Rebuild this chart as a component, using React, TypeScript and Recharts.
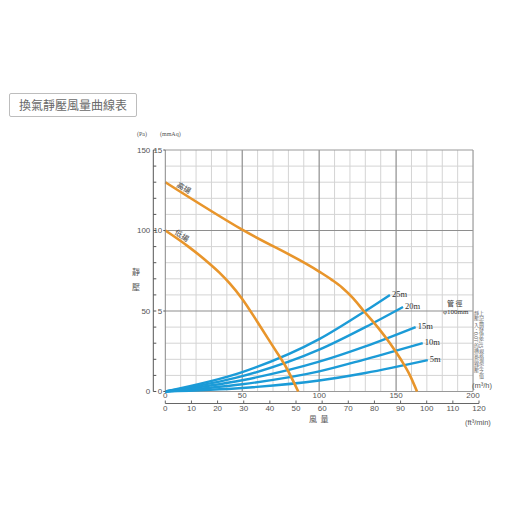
import {
  ComposedChart,
  LabelList,
  Line,
  ReferenceLine,
  XAxis,
  YAxis,
} from "recharts";

// fan curves, static pressure (mmAq) against airflow (m³/h)
const highFan = [
  { q: 0, h: 13 },
  { q: 50, h: 10.05 },
  { q: 100, h: 7.45 },
  { q: 108, h: 6.95 },
  { q: 115, h: 6.45 },
  { q: 122, h: 5.8 },
  { q: 129, h: 5.0 },
  { q: 138, h: 4.0 },
  { q: 146, h: 3.0 },
  { q: 153, h: 2.0 },
  { q: 159, h: 1.0 },
  { q: 163.6, h: 0 },
];

const lowFan = [
  { q: 0, h: 10 },
  { q: 15, h: 9.0 },
  { q: 28, h: 8.0 },
  { q: 35, h: 7.4 },
  { q: 42, h: 6.7 },
  { q: 50, h: 5.75 },
  { q: 60, h: 4.3 },
  { q: 70, h: 2.8 },
  { q: 78, h: 1.6 },
  { q: 86.4, h: 0 },
];

// duct resistance curves, duct φ100mm
const duct25 = [
  { q: 0, h: 0 },
  { q: 50, h: 1.2 },
  { q: 100, h: 3.25 },
  { q: 130, h: 5.0 },
  { q: 146, h: 6.0 },
];
const duct20 = [
  { q: 0, h: 0 },
  { q: 50, h: 0.95 },
  { q: 100, h: 2.6 },
  { q: 130, h: 4.0 },
  { q: 154.5, h: 5.25 },
];
const duct15 = [
  { q: 0, h: 0 },
  { q: 50, h: 0.7 },
  { q: 100, h: 1.85 },
  { q: 130, h: 2.8 },
  { q: 162.7, h: 4.0 },
];
const duct10 = [
  { q: 0, h: 0 },
  { q: 50, h: 0.45 },
  { q: 100, h: 1.25 },
  { q: 130, h: 2.0 },
  { q: 167.3, h: 3.0 },
];
const duct5 = [
  { q: 0, h: 0 },
  { q: 50, h: 0.22 },
  { q: 100, h: 0.68 },
  { q: 130, h: 1.15 },
  { q: 170.6, h: 1.95 },
];

const ductSeries = [
  { name: "25m", data: duct25 },
  { name: "20m", data: duct20 },
  { name: "15m", data: duct15 },
  { name: "10m", data: duct10 },
  { name: "5m", data: duct5 },
];

const m3Ticks = [0, 50, 100, 150, 200];
const ftTicks = [0, 10, 20, 30, 40, 50, 60, 70, 80, 90, 100, 110, 120];
const mmTicks = [0, 5, 10, 15];
const paTicks = [0, 10, 20, 30, 40, 50, 60, 70, 80, 90, 100, 110, 120, 130, 140, 150];
const paLabels = [0, 50, 100, 150];

const minorQ = [10, 20, 30, 40, 60, 70, 80, 90, 110, 120, 130, 140, 160, 170, 180, 190];
const majorQ = [50, 100, 150];
const minorH = [1, 2, 3, 4, 6, 7, 8, 9, 11, 12, 13, 14];
const majorH = [5, 10];

const M3_PER_CFM = 1.699;
const qMax = 120 * M3_PER_CFM;

// corners of the secondary scales, so those axes have a domain
const secondaryRange = [
  { cfm: 0, pa: 0 },
  { cfm: 120, pa: 150 },
];

const ORANGE = "#e8952b";
const BLUE = "#1b9bd7";
const SANS = "'Liberation Sans', Arial, sans-serif";
const SERIF = "'Liberation Serif', 'Times New Roman', serif";
const CJK = "'Noto Sans CJK TC', sans-serif";

const PaTick = (props: any) => {
  const { x, y, payload } = props;
  return (
    <g>
      <line x1={x + 3} x2={x + 6} y1={y} y2={y} stroke="#555" />
      {paLabels.includes(payload.value) && (
        <text
          x={x}
          y={y}
          textAnchor="end"
          dominantBaseline="central"
          fontSize={8}
          fill="#555"
          fontFamily={SANS}
        >
          {payload.value}
        </text>
      )}
    </g>
  );
};

const FtTick = (props: any) => {
  const { x, y, payload } = props;
  return (
    <g>
      <line x1={x} x2={x} y1={y} y2={y - 3} stroke="#666" />
      <text
        x={x}
        y={y + 5}
        textAnchor="middle"
        dominantBaseline="central"
        fontSize={8}
        fill="#555"
        fontFamily={SANS}
      >
        {payload.value}
      </text>
    </g>
  );
};

const endLabel = (text: string, last: number) => (props: any) =>
  props.index === last ? (
    <text
      x={Number(props.x) + 2}
      y={Number(props.y) - 1}
      dominantBaseline="central"
      fontSize={8.5}
      fill="#333"
      fontFamily={SERIF}
    >
      {text}
    </text>
  ) : null;

const startLabel = (text: string, dx: number, dy: number, angle: number) => (props: any) =>
  props.index === 0 ? (
    <text
      x={Number(props.x) + dx}
      y={Number(props.y) + dy}
      textAnchor="middle"
      dominantBaseline="central"
      fontSize={7.5}
      fill="#444"
      fontFamily={CJK}
      transform={`rotate(${angle} ${Number(props.x) + dx} ${Number(props.y) + dy})`}
    >
      {text}
    </text>
  ) : null;

const abs = (left: number, top: number, extra: any = {}) => ({
  position: "absolute" as const,
  left,
  top,
  color: "#555",
  whiteSpace: "nowrap" as const,
  ...extra,
});

export default function App() {
  return (
    <div style={{ position: "absolute", left: 0, top: 0, width: 514, height: 514, background: "#fff" }}>
      <div
        style={abs(9, 93, {
          width: 128,
          height: 24,
          boxSizing: "border-box",
          border: "1px solid #bdbdbd",
          borderRadius: 2,
          textAlign: "center",
          lineHeight: "22px",
          fontSize: 12,
          fontFamily: CJK,
          color: "#6a6a6a",
        })}
      >
        換氣靜壓風量曲線表
      </div>

      <ComposedChart
        width={514}
        height={514}
        margin={{ top: 150, right: 35, bottom: 84.5, left: 123.3 }}
        style={{ position: "absolute", left: 0, top: 0 }}
      >
        <XAxis
          xAxisId="a_m3"
          type="number"
          dataKey="q"
          domain={[0, qMax]}
          ticks={m3Ticks}
          interval={0}
          height={12}
          axisLine={false}
          tickLine={false}
          tickSize={0}
          tickMargin={1}
          tick={{ fontSize: 8, fill: "#555", fontFamily: SANS }}
        />
        <XAxis
          xAxisId="b_ft"
          type="number"
          dataKey="cfm"
          domain={[0, 120]}
          ticks={ftTicks}
          interval={0}
          height={26}
          axisLine={{ stroke: "#666" }}
          tickLine={false}
          tickSize={0}
          tickMargin={0}
          tick={FtTick}
        />
        <YAxis
          yAxisId="a_mm"
          type="number"
          domain={[0, 15]}
          ticks={mmTicks}
          interval={0}
          width={12}
          axisLine={{ stroke: "#888" }}
          tickLine={{ stroke: "#555" }}
          tickSize={2}
          tickMargin={1}
          tick={{ fontSize: 8, fill: "#555", fontFamily: SANS }}
        />
        <YAxis
          yAxisId="b_pa"
          type="number"
          domain={[0, 150]}
          ticks={paTicks}
          interval={0}
          width={30}
          axisLine={{ stroke: "#555" }}
          tickLine={false}
          tickSize={0}
          tickMargin={3}
          tick={PaTick}
        />

        {minorQ.map((v) => (
          <ReferenceLine key={`mq${v}`} xAxisId="a_m3" yAxisId="a_mm" x={v} stroke="#d4d4d4" />
        ))}
        {minorH.map((v) => (
          <ReferenceLine
            key={`mh${v}`}
            xAxisId="a_m3"
            yAxisId="a_mm"
            segment={[{ x: 0, y: v }, { x: 200, y: v }]}
            stroke="#d4d4d4"
          />
        ))}
        {majorQ.map((v) => (
          <ReferenceLine key={`Mq${v}`} xAxisId="a_m3" yAxisId="a_mm" x={v} stroke="#8e8e8e" strokeWidth={1.2} />
        ))}
        {majorH.map((v) => (
          <ReferenceLine
            key={`Mh${v}`}
            xAxisId="a_m3"
            yAxisId="a_mm"
            segment={[{ x: 0, y: v }, { x: 200, y: v }]}
            stroke="#8e8e8e"
            strokeWidth={1.2}
          />
        ))}
        <ReferenceLine xAxisId="a_m3" yAxisId="a_mm" x={200} stroke="#999" strokeWidth={1.2} />
        <ReferenceLine
          xAxisId="a_m3"
          yAxisId="a_mm"
          segment={[{ x: 0, y: 15 }, { x: 200, y: 15 }]}
          stroke="#999"
          strokeWidth={1.2}
        />
        <ReferenceLine
          xAxisId="a_m3"
          yAxisId="a_mm"
          segment={[{ x: 0, y: 0 }, { x: 200, y: 0 }]}
          stroke="#999"
          strokeWidth={1.2}
        />

        <Line
          data={secondaryRange}
          xAxisId="b_ft"
          yAxisId="b_pa"
          dataKey="pa"
          stroke="none"
          dot={false}
          activeDot={false}
          isAnimationActive={false}
        />

        {ductSeries.map((s) => (
          <Line
            key={s.name}
            data={s.data}
            xAxisId="a_m3"
            yAxisId="a_mm"
            dataKey="h"
            type="monotone"
            stroke={BLUE}
            strokeWidth={2.4}
            dot={false}
            isAnimationActive={false}
          >
            <LabelList dataKey="h" content={endLabel(s.name, s.data.length - 1)} />
          </Line>
        ))}

        <Line
          data={highFan}
          xAxisId="a_m3"
          yAxisId="a_mm"
          dataKey="h"
          type="monotone"
          stroke={ORANGE}
          strokeWidth={2.6}
          dot={false}
          isAnimationActive={false}
        >
          <LabelList dataKey="h" content={startLabel("高揚", 19, 5, 30)} />
        </Line>
        <Line
          data={lowFan}
          xAxisId="a_m3"
          yAxisId="a_mm"
          dataKey="h"
          type="monotone"
          stroke={ORANGE}
          strokeWidth={2.6}
          dot={false}
          isAnimationActive={false}
        >
          <LabelList dataKey="h" content={startLabel("低揚", 17, 4.5, 33)} />
        </Line>
      </ComposedChart>

      <div style={abs(137, 131, { fontSize: 6, fontFamily: SERIF })}>(Pa)</div>
      <div style={abs(160, 131, { fontSize: 6, fontFamily: SERIF })}>(mmAq)</div>
      <div style={abs(132, 267, { fontSize: 8, lineHeight: "10px", fontFamily: CJK })}>靜</div>
      <div style={abs(132, 282, { fontSize: 8, lineHeight: "10px", fontFamily: CJK })}>壓</div>
      <div style={abs(309, 414, { fontSize: 8, lineHeight: "9px", fontFamily: CJK })}>風&nbsp;&nbsp;量</div>
      <div style={abs(465, 418, { fontSize: 7.5, lineHeight: "9px", fontFamily: SANS })}>(ft³/min)</div>
      <div style={abs(472, 381, { fontSize: 7.5, lineHeight: "9px", fontFamily: SANS })}>(m³/h)</div>
      <div style={abs(447, 299, { fontSize: 7, lineHeight: "8px", fontFamily: CJK, color: "#333" })}>管&nbsp;徑</div>
      <div style={abs(443, 308, { fontSize: 7, lineHeight: "8px", fontFamily: SERIF, color: "#333" })}>φ100mm</div>
      <div
        style={abs(474, 311, {
          writingMode: "vertical-rl",
          fontSize: 5,
          lineHeight: "5px",
          height: 68,
          fontFamily: CJK,
          color: "#666",
        })}
      >
        上記曲線係依JIS規格測定之值
        <br />
        靜壓 入：0.07 的換氣扇靜壓
      </div>
    </div>
  );
}
